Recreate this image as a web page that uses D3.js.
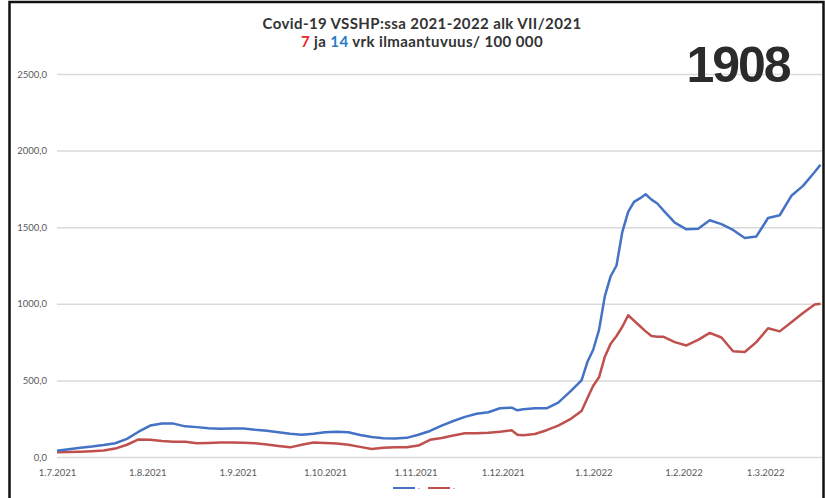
<!DOCTYPE html>
<html>
<head>
<meta charset="utf-8">
<script src="https://cdn.jsdelivr.net/npm/d3@7"></script>
<style>
    body { margin: 0; background: #fff; }
    svg { display: block; }
</style>
</head>
<body>
<svg id="chart" width="825" height="498"></svg>
<script>
/*
    Covid-19 VSSHP incidence chart, 7 and 14 day per 100 000
 */

// sample dates (d.m.yyyy)
const dates = [
    "1.7.2021", "5.7.2021", "9.7.2021", "13.7.2021", "17.7.2021", "21.7.2021", "25.7.2021", "29.7.2021",
    "2.8.2021", "6.8.2021", "10.8.2021", "14.8.2021", "18.8.2021", "22.8.2021", "26.8.2021", "30.8.2021",
    "3.9.2021", "7.9.2021", "11.9.2021", "15.9.2021", "19.9.2021", "23.9.2021", "27.9.2021",
    "1.10.2021", "5.10.2021", "9.10.2021", "13.10.2021", "17.10.2021", "21.10.2021", "25.10.2021", "29.10.2021",
    "2.11.2021", "6.11.2021", "10.11.2021", "14.11.2021", "18.11.2021", "22.11.2021", "26.11.2021", "30.11.2021",
    "4.12.2021", "6.12.2021", "8.12.2021", "12.12.2021", "16.12.2021", "20.12.2021", "24.12.2021", "28.12.2021", "30.12.2021",
    "1.1.2022", "3.1.2022", "5.1.2022", "7.1.2022", "9.1.2022", "11.1.2022", "13.1.2022", "15.1.2022",
    "17.1.2022", "19.1.2022", "21.1.2022", "23.1.2022", "25.1.2022", "29.1.2022",
    "2.2.2022", "6.2.2022", "10.2.2022", "14.2.2022", "18.2.2022", "22.2.2022", "26.2.2022",
    "2.3.2022", "6.3.2022", "10.3.2022", "14.3.2022", "18.3.2022", "20.3.2022"
];

// 14 vrk ilmaantuvuus (blue)
const values14 = [
    41, 50, 60, 68, 78, 90, 118, 165,
    205, 218, 218, 200, 195, 188, 185, 186,
    186, 178, 172, 162, 152, 146, 152,
    162, 165, 162, 144, 130, 123, 120, 125,
    145, 170, 205, 235, 262, 282, 292, 318,
    322, 305, 312, 318, 318, 355, 425, 500, 620,
    700, 830, 1050, 1180, 1250, 1470, 1600, 1665,
    1688, 1715, 1680, 1655, 1612, 1530,
    1486, 1490, 1545, 1520, 1482, 1430, 1440,
    1560, 1578, 1705, 1770, 1860, 1908
];

// 7 vrk ilmaantuvuus (red)
const values7 = [
    31, 33, 35, 38, 42, 55, 80, 115,
    112, 105, 100, 100, 90, 92, 95, 95,
    93, 90, 82, 72, 63, 80, 94,
    92, 88, 80, 66, 52, 60, 63, 63,
    75, 112, 124, 140, 155, 155, 158, 165,
    174, 146, 142, 150, 175, 205, 245, 300, 383,
    465, 520, 655, 740, 790, 850, 925, 890,
    855, 820, 790, 785, 785, 750,
    728, 765, 810, 780, 690, 685, 750,
    840, 820, 880, 940, 995, 1000
];

const yTicks = [0, 500, 1000, 1500, 2000, 2500];
const xTickLabels = ["1.7.2021", "1.8.2021", "1.9.2021", "1.10.2021", "1.11.2021",
    "1.12.2021", "1.1.2022", "1.2.2022", "1.3.2022"];
const latestValue = "1908";

const parseDate = d3.timeParse("%d.%m.%Y");
const svg = d3.select("#chart");
const FONT = "Lato, 'Open Sans', sans-serif";

const xScale = d3.scaleTime()
    .domain([parseDate("1.7.2021"), parseDate("20.3.2022")])
    .range([57, 820.5]);

const yScale = d3.scaleLinear()
    .domain([0, 2500])
    .range([457, 74]);

function drawFrame() {
    // outer black frame of the screenshot
    svg.append("rect")
        .attr("x", 9.5).attr("y", 2)
        .attr("width", 814).attr("height", 520)
        .attr("fill", "#fff")
        .attr("stroke", "#111")
        .attr("stroke-width", 2.5);
}

function drawGrid() {
    let gridAxis = d3.axisLeft(yScale)
        .tickValues(yTicks)
        .tickSize(-(822 - 57))
        .tickPadding(10)
        .tickFormat(d => d3.format(".1f")(d).replace(".", ","));

    let g = svg.append("g")
        .attr("class", "y-axis")
        .attr("transform", "translate(57,0)")
        .call(gridAxis);
    g.select(".domain").remove();
    g.selectAll(".tick line")
        .attr("stroke", "#d9d9d9")
        .attr("stroke-width", 1.5);
    g.selectAll(".tick text")
        .attr("fill", "#595959")
        .attr("font-family", FONT)
        .attr("font-size", "9.5px");
}

function drawXAxis() {
    let xAxis = d3.axisBottom(xScale)
        .tickValues(xTickLabels.map(parseDate))
        .tickSize(0)
        .tickPadding(12)
        .tickFormat(d3.timeFormat("%-d.%-m.%Y"));

    let g = svg.append("g")
        .attr("class", "x-axis")
        .attr("transform", "translate(0,457)")
        .call(xAxis);
    g.select(".domain").remove();
    g.selectAll(".tick text")
        .attr("fill", "#595959")
        .attr("font-family", FONT)
        .attr("font-size", "9.5px");
}

function drawSeries(values, colour) {
    let points = dates.map((d, i) => ({date: parseDate(d), value: values[i]}));
    let line = d3.line()
        .x(d => xScale(d.date))
        .y(d => yScale(d.value));
    svg.append("path")
        .datum(points)
        .attr("class", "series")
        .attr("fill", "none")
        .attr("stroke", colour)
        .attr("stroke-width", 2.5)
        .attr("stroke-linejoin", "round")
        .attr("d", line);
}

function drawTitle() {
    svg.append("text")
        .attr("x", 422).attr("y", 29)
        .attr("text-anchor", "middle")
        .attr("font-family", FONT)
        .attr("font-weight", "bold")
        .attr("font-size", "15px")
        .attr("letter-spacing", "0.4px")
        .attr("fill", "#333")
        .text("Covid-19 VSSHP:ssa 2021-2022 alk VII/2021");

    // second line is split into coloured pieces, each its own text
    let pieces = [
        {text: "7", colour: "#e8262a"},
        {text: "\u00a0ja\u00a0", colour: "#333"},
        {text: "14", colour: "#2b7bc8"},
        {text: "\u00a0vrk ilmaantuvuus/ 100 000", colour: "#333"}
    ];
    let nodes = pieces.map(p => svg.append("text")
        .attr("y", 47)
        .attr("font-family", FONT)
        .attr("font-weight", "bold")
        .attr("font-size", "15px")
        .attr("letter-spacing", "0.4px")
        .attr("fill", p.colour)
        .text(p.text));
    let widths = nodes.map(n => n.node().getComputedTextLength());
    let x = 422 - d3.sum(widths) / 2;
    nodes.forEach((n, i) => {
        n.attr("x", x);
        x += widths[i];
    });

    // latest 14 day value
    svg.append("text")
        .attr("x", 738).attr("y", 82)
        .attr("text-anchor", "middle")
        .attr("font-family", "'Liberation Sans', Arial, sans-serif")
        .attr("font-weight", "bold")
        .attr("font-size", "50px")
        .attr("letter-spacing", "-2px")
        .attr("fill", "#2b2b2b")
        .text(latestValue);
}

function drawLegend() {
    let items = [{x: 393, colour: "#4472c4"}, {x: 428, colour: "#c0504d"}];
    items.forEach(item => {
        svg.append("line")
            .attr("x1", item.x).attr("x2", item.x + 22)
            .attr("y1", 488).attr("y2", 488)
            .attr("stroke", item.colour)
            .attr("stroke-width", 2);
        svg.append("line")
            .attr("x1", item.x + 25).attr("x2", item.x + 27)
            .attr("y1", 488.5).attr("y2", 488.5)
            .attr("stroke", "#bbb")
            .attr("stroke-width", 1);
    });
}

drawFrame();
drawGrid();
drawXAxis();
drawSeries(values7, "#c0504d");
drawSeries(values14, "#4472c4");
drawTitle();
drawLegend();
</script>
</body>
</html>
